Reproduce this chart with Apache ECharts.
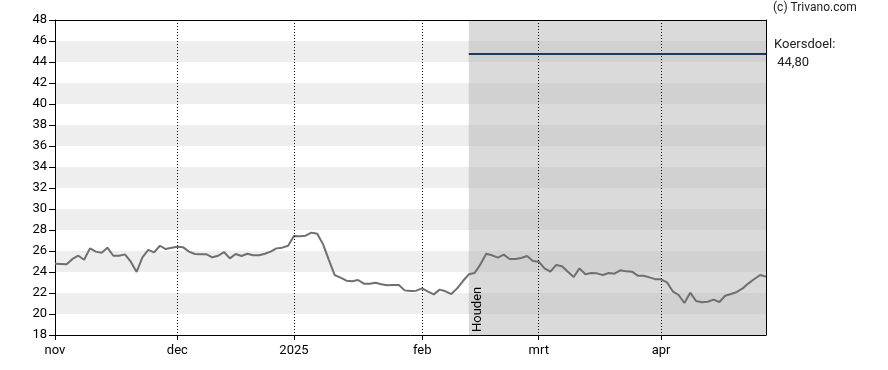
<!DOCTYPE html>
<html><head><meta charset="utf-8">
<script src="https://cdn.jsdelivr.net/npm/echarts@6/dist/echarts.min.js"></script>
<style>html,body{margin:0;padding:0;background:#fff}#c{width:888px;height:370px}</style>
</head><body><div id="c"></div>
<script>
// ---- data ----
const closePrices = [
  24.79,24.76,24.73,25.24,25.55,25.17,26.25,25.94,25.84,26.32,
  25.55,25.55,25.68,24.98,24.00,25.40,26.10,25.87,26.50,26.19,
  26.30,26.40,26.35,25.94,25.71,25.68,25.68,25.40,25.55,25.90,
  25.30,25.71,25.52,25.74,25.59,25.59,25.74,25.94,26.25,26.32,
  26.50,27.43,27.40,27.46,27.75,27.65,26.63,25.14,23.71,23.46,
  23.17,23.11,23.24,22.89,22.89,22.98,22.83,22.73,22.76,22.76,
  22.25,22.19,22.22,22.44,22.13,21.87,22.32,22.16,21.90,22.44,
  23.14,23.78,23.90,24.73,25.74,25.59,25.37,25.65,25.24,25.24,
  25.33,25.52,25.05,24.98,24.35,24.03,24.67,24.54,24.03,23.52,
  24.35,23.78,23.90,23.87,23.71,23.90,23.84,24.16,24.06,24.03,
  23.65,23.65,23.49,23.32,23.30,23.02,22.16,21.81,21.05,22.03,
  21.24,21.11,21.17,21.37,21.14,21.74,21.90,22.10,22.44,22.92,
  23.33,23.71,23.56
];
const startDate = '2024-11-01';
const holidays = ['2024-12-25','2024-12-26','2025-01-01','2025-04-18','2025-04-21'];
const monthLabels = {'2024-11':'nov','2024-12':'dec','2025-01':'2025','2025-02':'feb','2025-03':'mrt','2025-04':'apr'};
const yMin = 18, yMax = 48, yStep = 2;
const houdenDate = '2025-02-13';
const houdenLabel = 'Houden';
const koersdoel = 44.80;
const koersdoelText = ['Koersdoel:', ' 44,80'];
const copyright = '(c) Trivano.com';

// ---- trading-day categories ----
function tradingDays(start, n, skip) {
  const out = [];
  const d = new Date(start + 'T00:00:00Z');
  while (out.length < n) {
    const s = d.toISOString().slice(0, 10);
    const wd = d.getUTCDay();
    if (wd !== 0 && wd !== 6 && skip.indexOf(s) < 0) out.push(s);
    d.setUTCDate(d.getUTCDate() + 1);
  }
  return out;
}
const dates = tradingDays(startDate, closePrices.length, holidays);
const lastDate = dates[dates.length - 1];
const monthStart = new Set();
dates.forEach((d, i) => { if (i === 0 || d.slice(0, 7) !== dates[i - 1].slice(0, 7)) monthStart.add(i); });

const regionAreas = [[{xAxis: houdenDate, yAxis: yMin, itemStyle: {color: '#dadada'}}, {xAxis: lastDate, yAxis: yMax}]];
for (let v = yMin + yStep; v < yMax; v += 2 * yStep) {
  regionAreas.push([{xAxis: houdenDate, yAxis: v, itemStyle: {color: '#d1d1d1'}}, {xAxis: lastDate, yAxis: v + yStep}]);
}

const FONT = 'Roboto, "Liberation Sans", Arial, sans-serif';
const chart = echarts.init(document.getElementById('c'), null, {renderer: 'canvas'});
chart.setOption({
  animation: false,
  backgroundColor: '#ffffff',
  grid: {left: 55, right: 122, top: 20, bottom: 35, containLabel: false},
  xAxis: [{
    type: 'category', data: dates, boundaryGap: false, z: 3,
    axisLine: {show: true, lineStyle: {color: '#000', width: 1}},
    axisTick: {show: true, length: 5, interval: (i) => monthStart.has(i), lineStyle: {color: '#000'}},
    axisLabel: {interval: (i) => monthStart.has(i), formatter: (v) => monthLabels[v.slice(0, 7)] || '',
      color: '#000', fontSize: 13, fontFamily: FONT, margin: 9},
    splitLine: {show: true, interval: (i) => monthStart.has(i) && i > 0, lineStyle: {type: [1, 2], color: '#000', width: 1}}
  }, {
    type: 'value', position: 'top', z: 10, min: 0, max: 1,
    axisLine: {show: true, onZero: false, lineStyle: {color: '#000', width: 1}},
    axisTick: {show: false}, axisLabel: {show: false}, splitLine: {show: false}
  }],
  yAxis: [{
    type: 'value', min: yMin, max: yMax, interval: yStep, z: 0,
    axisLine: {show: true, lineStyle: {color: '#000', width: 1}},
    axisTick: {show: true, length: 6, lineStyle: {color: '#000'}},
    axisLabel: {color: '#000', fontSize: 13, fontFamily: FONT, margin: 8},
    splitLine: {show: false},
    splitArea: {show: true, areaStyle: {color: ['rgba(255,255,255,0)', '#eeeeee']}}
  }, {
    type: 'value', position: 'right', z: 10, min: 0, max: 1,
    axisLine: {show: true, onZero: false, lineStyle: {color: '#000', width: 1}},
    axisTick: {show: false}, axisLabel: {show: false}, splitLine: {show: false}
  }],
  series: [{
    type: 'line', data: closePrices, xAxisIndex: 0, yAxisIndex: 0,
    showSymbol: false, symbol: 'none', z: 2,
    lineStyle: {color: '#6f6f6f', width: 2},
    markArea: {silent: true, data: regionAreas},
    markLine: {silent: true, symbol: 'none', label: {show: false},
      lineStyle: {color: '#1d3c5a', width: 2, type: 'solid'},
      data: [[{coord: [houdenDate, koersdoel]}, {coord: [lastDate, koersdoel]}]]}
  }]
});

const hp = chart.convertToPixel({xAxisIndex: 0, yAxisIndex: 0}, [houdenDate, yMin]);
chart.setOption({
  graphic: [
    {type: 'text', x: hp[0] + 9, y: hp[1] - 3, rotation: Math.PI / 2, z: 20,
      style: {text: houdenLabel, font: '13px ' + FONT, fill: '#000', textAlign: 'left', textVerticalAlign: 'middle'}},
    {type: 'text', left: 773, top: 2, z: 20, style: {text: copyright, font: '12px ' + FONT, fill: '#222'}},
    {type: 'text', left: 774, top: 38, z: 20, style: {text: koersdoelText[0], font: '13px ' + FONT, fill: '#222'}},
    {type: 'text', left: 774, top: 56, z: 20, style: {text: koersdoelText[1], font: '13px ' + FONT, fill: '#222'}}
  ]
});
</script></body></html>
